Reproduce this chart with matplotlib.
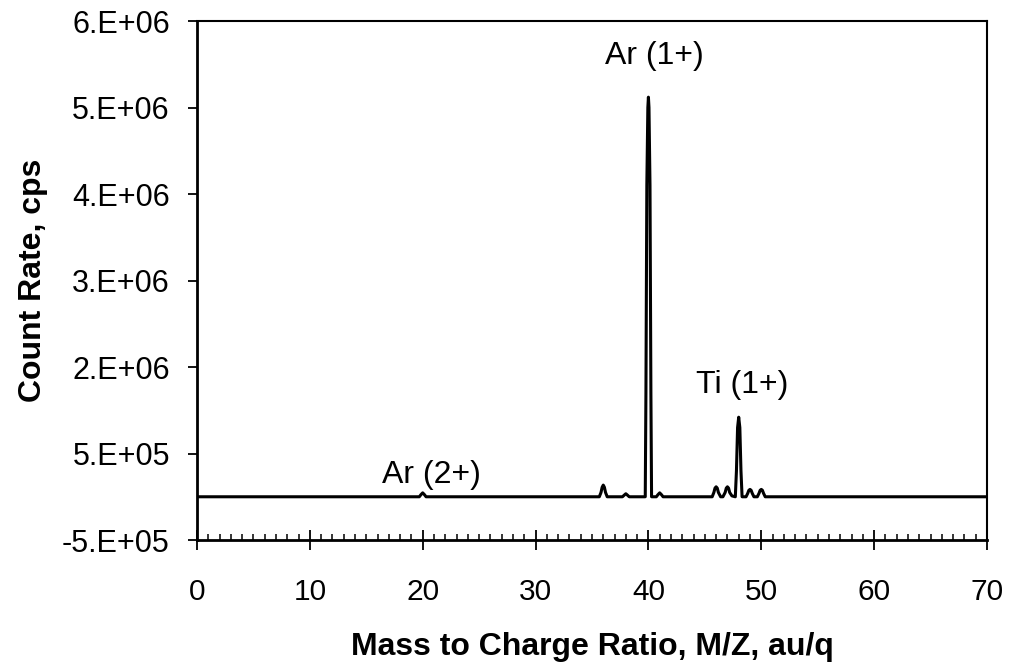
import numpy as np
import matplotlib
matplotlib.use("Agg")
import matplotlib.pyplot as plt
from matplotlib.ticker import MultipleLocator

plt.rcParams['font.family'] = ['Liberation Sans', 'DejaVu Sans']

# spectrum points (m/z, counts per second)
mz = [0, 19.7, 19.85, 20.0, 20.15, 20.3,
      35.65, 35.8, 35.9, 36.0, 36.1, 36.2, 36.35,
      37.7, 37.85, 38.0, 38.15, 38.3,
      39.72, 39.78, 39.86, 39.95, 40.0, 40.05, 40.14, 40.22, 40.28,
      40.7, 40.85, 41.0, 41.15, 41.3,
      45.65, 45.8, 45.9, 46.0, 46.1, 46.2, 46.4,
      46.6, 46.8, 46.9, 47.0, 47.1, 47.2, 47.4,
      47.7, 47.8, 47.9, 48.0, 48.1, 48.2, 48.3,
      48.65, 48.8, 48.9, 49.0, 49.1, 49.2, 49.35,
      49.65, 49.8, 49.9, 50.0, 50.1, 50.2, 50.35,
      70]
counts = [0, 0, 2.5e4, 4.5e4, 2.5e4, 0,
          0, 5e4, 1.1e5, 1.35e5, 1.1e5, 5e4, 0,
          0, 1.8e4, 3.5e4, 1.8e4, 0,
          0, 1.2e6, 3.6e6, 4.5e6, 4.62e6, 4.5e6, 3.6e6, 1.2e6, 0,
          0, 2.5e4, 4.5e4, 2.5e4, 0,
          0, 5e4, 1.0e5, 1.15e5, 1.0e5, 5e4, 0,
          0, 5e4, 1.0e5, 1.15e5, 1.0e5, 5e4, 1e4,
          0, 3.0e5, 8.0e5, 9.2e5, 8.0e5, 3.0e5, 0,
          0, 4e4, 7.5e4, 8.5e4, 7.5e4, 4e4, 0,
          0, 4e4, 7.5e4, 8.5e4, 7.5e4, 4e4, 0,
          0]

# peak labels
peak_names = ['Ar (2+)', 'Ar (1+)', 'Ti (1+)']
peak_x = [20.8, 40.5, 48.3]
peak_y = [1.6e5, 5.0e6, 1.2e6]

# y ticks (Excel style rounding of the labels)
ytick_pos = [-5e5, 5e5, 1.5e6, 2.5e6, 3.5e6, 4.5e6, 5.5e6]
ytick_lab = ['-5.E+05', '5.E+05', '2.E+06', '3.E+06', '4.E+06', '5.E+06', '6.E+06']

fig = plt.figure(figsize=(10.09, 6.72), dpi=100)
ax = fig.add_axes([0.1952, 0.1964, 0.783, 0.7723])

ax.plot(mz, counts, color='black', lw=2.2)

for name, px, py in zip(peak_names, peak_x, peak_y):
    ax.text(px, py, name, ha='center', va='baseline', fontsize=23)

ax.set_xlim(0, 70)
ax.set_ylim(-5e5, 5.5e6)
ax.xaxis.set_major_locator(MultipleLocator(10))
ax.xaxis.set_minor_locator(MultipleLocator(1))
ax.set_yticks(ytick_pos)
ax.set_yticklabels(ytick_lab)

ax.tick_params(axis='x', which='major', direction='inout', length=14, width=1.3,
               pad=20, labelsize=21.5)
ax.tick_params(axis='x', which='minor', direction='in', length=4.3, width=1.1)
ax.tick_params(axis='y', which='major', direction='out', length=6.5, width=1.3,
               pad=13, labelsize=22)

for s in ax.spines.values():
    s.set_linewidth(1.5)
    s.set_color('black')
ax.spines['left'].set_linewidth(2)
ax.spines['bottom'].set_linewidth(2)

ax.set_xlabel('Mass to Charge Ratio, M/Z, au/q', fontsize=23, fontweight='bold',
              labelpad=19)
ax.set_ylabel('Count Rate, cps', fontsize=23, fontweight='bold', va='center')
ax.yaxis.set_label_coords(-0.2076, 0.5)

fig.savefig('out.png', dpi=100)
